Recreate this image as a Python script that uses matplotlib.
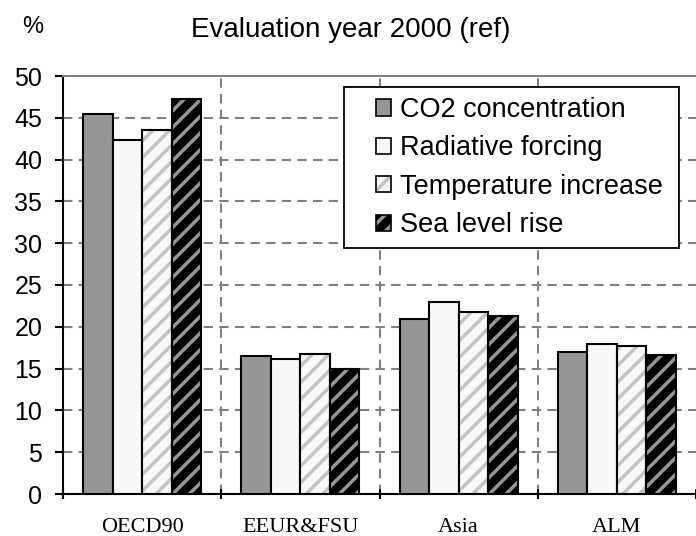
import matplotlib
matplotlib.use("Agg")
import matplotlib.pyplot as plt
import numpy as np
from matplotlib.patches import Patch, Rectangle

plt.rcParams["font.family"] = ["Liberation Sans", "DejaVu Sans"]
plt.rcParams["hatch.linewidth"] = 2.5

regions = ["OECD90", "EEUR&FSU", "Asia", "ALM"]
series = ["CO2 concentration", "Radiative forcing", "Temperature increase", "Sea level rise"]
co2 = [45.4, 16.5, 20.9, 17.0]
rad = [42.4, 16.1, 23.0, 17.9]
temp = [43.6, 16.8, 21.8, 17.7]
sea = [47.2, 15.0, 21.3, 16.6]
values = [co2, rad, temp, sea]

# face, hatch, hatch colour
styles = [
    ("#969696", None, None),
    ("#f8f8f8", None, None),
    ("#f8f8f8", "//", "#c4c4c4"),
    ("#000000", "//", "#969696"),
]

W, H = 696, 536
fig = plt.figure(figsize=(W / 100, H / 100), dpi=100)
ax = fig.add_axes([63 / W, 1 - 494 / H, 1 - 63 / W, (494 - 76) / H])

x = np.arange(len(regions)) + 0.5
group = 0.747
w = group / 4
for k, (vals, (fc, hatch, hc)) in enumerate(zip(values, styles)):
    pos = x - group / 2 + w * (k + 0.5)
    if hatch:
        ax.bar(pos, vals, w, color=fc, edgecolor=hc, hatch=hatch, linewidth=0, zorder=3)
        ax.bar(pos, vals, w, fill=False, edgecolor="black", linewidth=1.5, zorder=4)
    else:
        ax.bar(pos, vals, w, color=fc, edgecolor="black", linewidth=1.5, zorder=3)

ax.set_xlim(0, 4)
ax.set_ylim(0, 50)
ax.set_yticks(range(0, 51, 5))
ax.set_xticks(range(0, 5))
ax.set_xticklabels([])
ax.set_xticks(x, minor=True)
ax.set_xticklabels(regions, minor=True, family="Liberation Serif", fontsize=16)
ax.tick_params(axis="x", which="minor", length=0, pad=17.5)
ax.tick_params(axis="x", which="major", direction="inout", length=7, width=1.5)
ax.tick_params(axis="y", direction="out", length=6, width=1.5, labelsize=18, pad=9)

for yv in range(5, 50, 5):
    ax.axhline(yv, color="#808080", lw=1.5, dashes=(4.5, 3), zorder=1)
for xv in range(1, 4):
    ax.axvline(xv, color="#808080", lw=1.5, dashes=(4.5, 3), zorder=1)

ax.spines["left"].set_linewidth(1.5)
ax.spines["bottom"].set_linewidth(1.5)
ax.spines["top"].set_color("#808080")
ax.spines["top"].set_linewidth(1.5)
ax.spines["right"].set_visible(False)

# legend box drawn separately so the padding matches the reference
fig.patches.append(Rectangle((344 / W, 1 - 248 / H), (679 - 344) / W, (248 - 87) / H,
                             transform=fig.transFigure, facecolor="white",
                             edgecolor="black", linewidth=1.3, zorder=5))
handles = []
for lab, (fc, hatch, hc) in zip(series, styles):
    if hatch:
        handles.append((Patch(facecolor=fc, edgecolor=hc, hatch=hatch, linewidth=0),
                        Patch(fill=False, edgecolor="black", linewidth=1.2)))
    else:
        handles.append(Patch(facecolor=fc, edgecolor="black", linewidth=1.2))
leg = fig.legend(handles=handles, labels=series, loc="upper left",
                 bbox_to_anchor=(376 / W, 1 - 97 / H), bbox_transform=fig.transFigure,
                 borderaxespad=0, borderpad=0, fontsize=19.5, frameon=False,
                 handlelength=0.55, handleheight=0.55, handletextpad=0.35,
                 labelspacing=0.46)
leg.set_zorder(6)

fig.text(33 / W, 1 - 27 / H, "%", fontsize=17, ha="center", va="center")
fig.text(351 / W, 1 - 30 / H, "Evaluation year 2000 (ref)", fontsize=20,
         ha="center", va="center")

fig.savefig("out.png", dpi=100, facecolor="white")
